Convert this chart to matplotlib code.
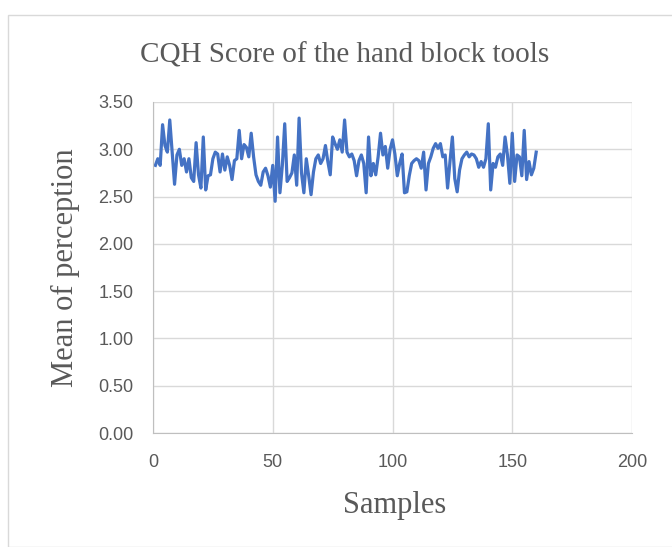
import matplotlib
matplotlib.use("Agg")
from matplotlib import pyplot as plt
from matplotlib.patches import Rectangle
import numpy as np

# mean perception per sample
scores_a = [2.83, 2.90, 2.83, 3.26, 3.04, 2.97, 3.31, 2.97, 2.63, 2.94,
            3.00, 2.83, 2.90, 2.76, 2.90, 2.70, 2.66, 3.07, 2.73, 2.59,
            3.13, 2.57, 2.72, 2.73, 2.90, 2.97]
scores_b = [2.95, 2.76, 2.95, 2.78, 2.92, 2.83, 2.68, 2.88, 2.90, 3.20,
            2.90, 3.05, 3.02, 2.92, 3.17, 2.92, 2.73, 2.66, 2.62, 2.76,
            2.80, 2.72, 2.60, 2.83, 2.45, 3.13]
scores_c = [2.54, 2.83, 3.27, 2.66, 2.70, 2.75, 2.94, 2.62, 3.33, 2.75,
            2.54, 2.90, 2.72, 2.52, 2.76, 2.90, 2.94, 2.85, 2.90, 3.04,
            2.87, 2.73, 3.13, 3.06, 3.00]
scores_d = [3.10, 2.97, 3.31, 2.97, 2.92, 2.95, 2.88, 2.72, 2.88, 2.94,
            2.85, 2.54, 3.13, 2.72, 2.85, 2.73, 2.92, 3.17, 2.94, 3.03,
            2.80, 3.00, 3.10, 2.95, 2.72, 2.85, 2.95, 2.54]
scores_e = [2.55, 2.72, 2.85, 2.88, 2.90, 2.88, 2.80, 2.97, 2.57, 2.85,
            2.92, 3.01, 3.06, 3.01, 3.06, 2.92, 2.94, 2.59, 2.87, 3.13,
            2.69, 2.55, 2.78, 2.90, 2.94, 2.97]
scores_f = [2.92, 2.95, 2.94, 2.90, 2.81, 2.87, 2.81, 2.90, 3.27, 2.57,
            2.85, 2.81, 2.92, 2.95, 2.83, 3.13, 2.94, 2.64, 3.17, 2.66,
            2.94, 2.92, 2.72, 3.20, 2.68, 2.87, 2.73, 2.80, 2.97]

scores = scores_a + scores_b + scores_c + scores_d + scores_e + scores_f
samples = np.arange(1, len(scores) + 1)

x_ticks = [0, 50, 100, 150, 200]
y_ticks = [0.0, 0.5, 1.0, 1.5, 2.0, 2.5, 3.0, 3.5]

title = "CQH Score of the hand block tools"
x_label = "Samples"
y_label = "Mean of perception"

text_grey = "#595959"
grid_grey = "#D9D9D9"


def main():
    fig = plt.figure(figsize=(6.72, 5.47), dpi=100)
    # chart-area border
    fig.patches.append(Rectangle((8 / 672, 0), 1, 1 - 15 / 547, transform=fig.transFigure,
                                 fill=False, edgecolor="#D9D9D9", linewidth=1))

    ax = fig.add_axes([153 / 672, 1 - 433 / 547, (632 - 153) / 672, (433 - 102) / 547])
    ax.plot(samples, scores, color="#4472C4", linewidth=2.3, solid_joinstyle="round")

    ax.set_xlim(0, 200)
    ax.set_ylim(0, 3.5)
    ax.set_xticks(x_ticks)
    ax.set_yticks(y_ticks)
    ax.set_yticklabels(["%.2f" % v for v in y_ticks])
    ax.grid(True, color=grid_grey, linewidth=1)
    ax.set_axisbelow(True)
    ax.tick_params(length=0, labelsize=13, colors=text_grey)
    ax.tick_params(axis="x", pad=15)
    ax.tick_params(axis="y", pad=14)
    for lab in ax.get_xticklabels() + ax.get_yticklabels():
        lab.set_family("Liberation Sans")
    for side in ["top", "right"]:
        ax.spines[side].set_visible(False)
    for side in ["left", "bottom"]:
        ax.spines[side].set_color("#BFBFBF")

    fig.text(345 / 672, 1 - 55 / 547, title, ha="center", va="center",
             family="Liberation Serif", fontsize=21, color=text_grey)
    fig.text(395 / 672, 1 - 506 / 547, x_label, ha="center", va="center",
             family="Liberation Serif", fontsize=22, color=text_grey)
    fig.text(65 / 672, 1 - 268 / 547, y_label, ha="center", va="center", rotation=90,
             family="Liberation Serif", fontsize=22, color=text_grey)

    fig.savefig("out.png", dpi=100)


if __name__ == "__main__":
    main()
